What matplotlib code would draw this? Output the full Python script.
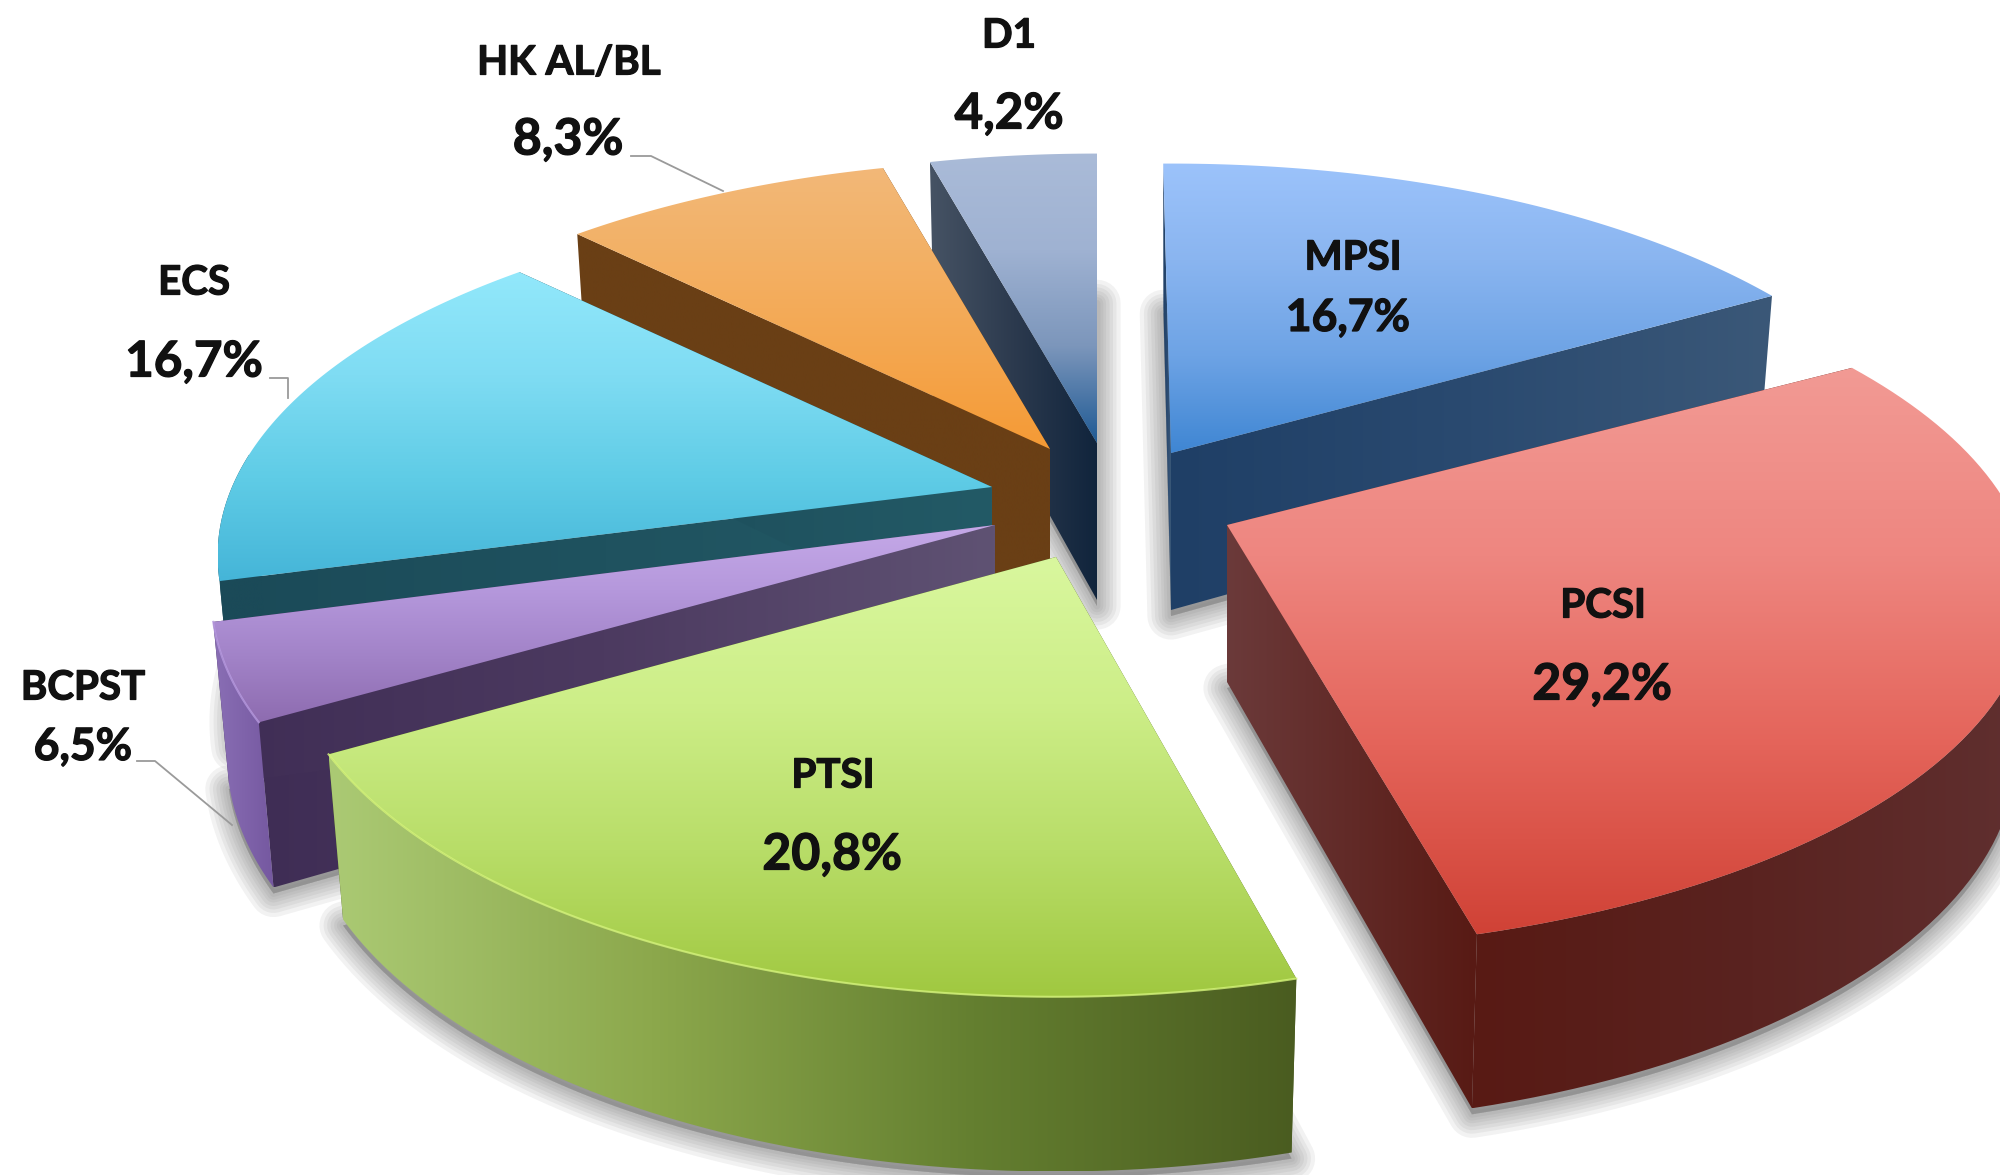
import numpy as np
import matplotlib
matplotlib.use('Agg')
import matplotlib.pyplot as plt
import matplotlib.patheffects as pe
from matplotlib.colors import LinearSegmentedColormap
from matplotlib.patches import Polygon

# slice sizes as drawn in the picture (BCPST is drawn smaller than its 6,5% label)
categories = ['MPSI', 'PCSI', 'PTSI', 'BCPST', 'ECS', 'HK AL/BL', 'D1']
shares = [16.7, 29.2, 20.8, 4.2, 16.7, 8.3, 4.2]
pct_labels = ['16,7%', '29,2%', '20,8%', '6,5%', '16,7%', '8,3%', '4,2%']

# style per slice
apex = {'MPSI': (1171, 453), 'PCSI': (1227, 525), 'PTSI': (1056, 557), 'BCPST': (995, 525),
        'ECS': (992, 487), 'HK AL/BL': (1050, 449), 'D1': (1097, 443)}
depth = 157
stretch = {'PCSI': (1.04, 1.0), 'PTSI': (1.0, 1.03), 'BCPST': (1.012, 1.03)}
top_cols = {'MPSI': ['#9cc3fb', '#8ab5f0', '#6da3e5', '#3f86d3'],
            'PCSI': ['#f29a94', '#ee8680', '#e4645a', '#d04236'],
            'PTSI': ['#d9f79e', '#cdee88', '#b8dd68', '#a0c840'],
            'BCPST': ['#c5a9e8', '#b598dc', '#a283c8', '#8e6cb0'],
            'ECS': ['#92e8fb', '#7fdcf3', '#5fcce6', '#45b5d8'],
            'HK AL/BL': ['#f2b878', '#f3b064', '#f4a64e', '#f59a35'],
            'D1': ['#aabbd8', '#9fb2d2', '#7c96bb', '#1f5a94']}
radial_cols = {'MPSI': ['#1f3f66', '#2a4a70', '#3b5878'],
               'PCSI': ['#6b3a3a', '#581a14'],
               'PTSI': ['#4a5c20', '#4a5c20'],
               'BCPST': ['#3f2d55', '#4c3a60', '#5f5273'],
               'ECS': ['#1b4a58', '#235a66'],
               'HK AL/BL': ['#6a3f15', '#6a3f15'],
               'D1': ['#465364', '#2c3a4e', '#10243c']}
arc_cols = {'MPSI': ['#3b5878', '#3b5878'],
            'PCSI': ['#581a14', '#5a2320', '#603030'],
            'PTSI': ['#abca74', '#8ca84c', '#647f30', '#4a5c20'],
            'BCPST': ['#8a6fb5', '#7558a0'],
            'ECS': ['#1b4a58', '#1b4a58'],
            'HK AL/BL': ['#6a3f15', '#6a3f15'],
            'D1': ['#10243c', '#10243c']}
rim_cols = {'PTSI': '#d4f37a', 'BCPST': '#b79ae0'}
name_pos = {'MPSI': (1353, 258), 'PCSI': (1603, 606), 'PTSI': (833, 776), 'BCPST': (83, 688),
            'ECS': (194, 283), 'HK AL/BL': (569, 63), 'D1': (1009, 36)}
pct_pos = {'MPSI': (1348, 318), 'PCSI': (1602, 685), 'PTSI': (832, 855), 'BCPST': (83, 747),
           'ECS': (194, 362), 'HK AL/BL': (568, 140), 'D1': (1009, 114)}
pct_size = {'MPSI': 32, 'PCSI': 36, 'PTSI': 36, 'BCPST': 32, 'ECS': 35.5, 'HK AL/BL': 36, 'D1': 35.5}
leaders = [[(137, 761), (155, 761), (232, 825)],
           [(631, 156), (651, 156), (723, 191)],
           [(270, 378), (288, 378), (288, 398)]]
draw_order = ['D1', 'HK AL/BL', 'ECS', 'BCPST', 'PTSI', 'MPSI', 'PCSI']
# the MPSI edge leans a little left of vertical in the picture
lean = {'MPSI': np.radians(0.7)}

RX, RY, PERSP = 760, 345, 0.192


def project(name, ang):
    cx, cy = apex[name]
    sx, sy = stretch.get(name, (1, 1))
    w = 1 + PERSP * np.sin(ang)
    return cx + sx * RX * np.cos(ang) / w, cy - sy * RY * np.sin(ang) / w


def to_bottom(name, x, y, ang):
    cx = apex[name][0]
    w = 1 + PERSP * np.sin(ang)
    return cx + (x - cx) * 0.98, y + depth / np.sqrt(w)


def grad_fill(ax, pts, cols, vertical, z):
    poly = Polygon(pts, closed=True, fc='none', ec='none')
    ax.add_patch(poly)
    pts = np.asarray(pts)
    x0, x1 = pts[:, 0].min(), pts[:, 0].max()
    y0, y1 = pts[:, 1].min(), pts[:, 1].max()
    rgba = LinearSegmentedColormap.from_list('g', cols)(np.linspace(0, 1, 256))
    arr = rgba[:, None, :] if vertical else rgba[None, :, :]
    im = ax.imshow(arr, extent=(x0, x1, y1, y0), aspect='auto', zorder=z, interpolation='bilinear')
    im.set_clip_path(poly)


fig = plt.figure(figsize=(20, 11.75), dpi=100)
ax = fig.add_axes([0, 0, 1, 1])

# angles of each slice, clockwise from the top
fracs = np.array(shares) / sum(shares)
stops = np.pi / 2 - 2 * np.pi * np.concatenate([[0], np.cumsum(fracs)])
angles = {c: (stops[i] + lean.get(c, 0), stops[i + 1]) for i, c in enumerate(categories)}

shapes = {}
for c in categories:
    a = np.linspace(angles[c][0], angles[c][1], 80)
    ax_, ay_ = project(c, a)
    bx, by = to_bottom(c, ax_, ay_, a)
    shapes[c] = (a, ax_, ay_, bx, by)

# soft shadows from the footprint of each slice
for c in categories:
    a, ax_, ay_, bx, by = shapes[c]
    cx, cy = apex[c]
    foot = np.column_stack([np.r_[cx, bx], np.r_[cy + depth, by]]) + [0, 6]
    for lw in [34, 28, 23, 18, 13, 9, 5]:
        ax.add_patch(Polygon(foot, closed=True, fc='#707070', ec='#707070', lw=lw, alpha=0.09,
                             joinstyle='round', zorder=1))

for i, c in enumerate(draw_order):
    a, ax_, ay_, bx, by = shapes[c]
    cx, cy = apex[c]
    z = 2 + i
    for k in [0, -1]:
        face = [(cx, cy), (ax_[k], ay_[k]), (bx[k], by[k]), (cx, cy + depth)]
        grad_fill(ax, face, radial_cols[c], False, z)
    # only the part of the rim that faces the viewer
    front = np.sin(a) < 0.1
    if front.sum() > 1:
        arc_face = np.column_stack([np.r_[ax_[front], bx[front][::-1]], np.r_[ay_[front], by[front][::-1]]])
        grad_fill(ax, arc_face, arc_cols[c], False, z + 0.1)
    top = np.column_stack([np.r_[cx, ax_], np.r_[cy, ay_]])
    grad_fill(ax, top, top_cols[c], True, z + 0.2)
    if c in rim_cols:
        ax.plot(ax_, ay_, color=rim_cols[c], lw=1.5, alpha=0.8, zorder=z + 0.3)

for pts in leaders:
    ax.plot(*zip(*pts), color='#9a9a9a', lw=1.3, zorder=20)

thicken = [pe.withStroke(linewidth=0.9, foreground='#111111')]
for c, pct in zip(categories, pct_labels):
    ax.text(*name_pos[c], c, family='Lato', weight='bold', fontsize=29, color='#111111',
            ha='center', va='center', zorder=21, path_effects=thicken)
    ax.text(*pct_pos[c], pct, family='Lato', weight='bold', fontsize=pct_size[c], color='#111111',
            ha='center', va='center', zorder=21, path_effects=thicken)

ax.set_xlim(0, 2000)
ax.set_ylim(1175, 0)
ax.axis('off')
fig.savefig('out.png', dpi=100)
